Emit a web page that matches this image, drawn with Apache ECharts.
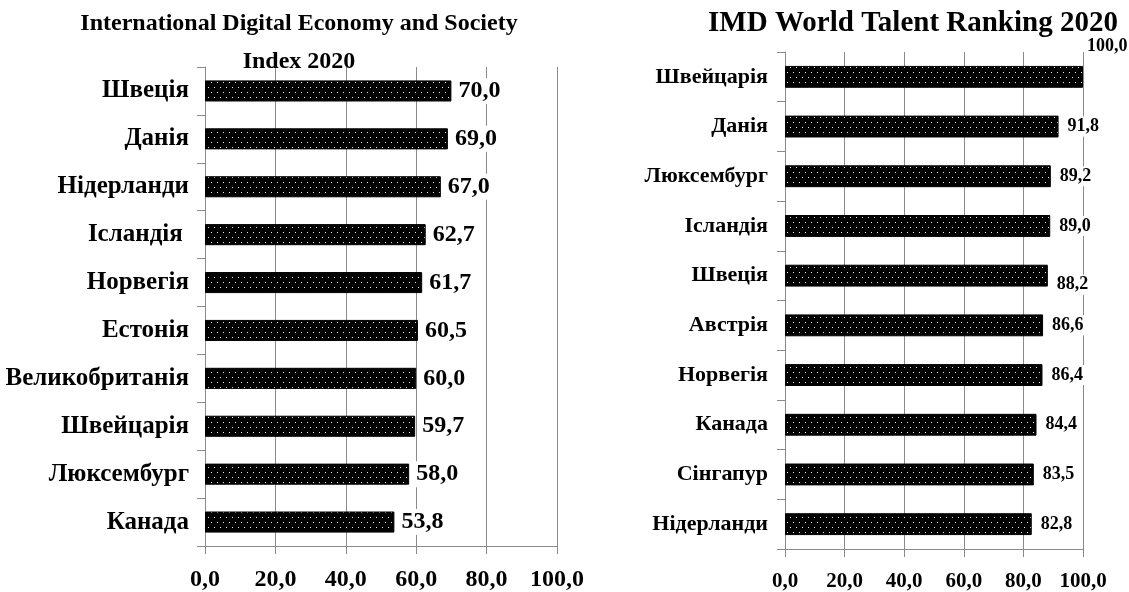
<!DOCTYPE html>
<html><head><meta charset="utf-8">
<script src="https://cdn.jsdelivr.net/npm/echarts@6/dist/echarts.min.js"></script>
<style>html,body{margin:0;padding:0;background:#fff}#c{width:1129px;height:592px}</style>
</head><body><div id="c"></div><script>
const leftCategories = ['Швеція','Данія','Нідерланди','Ісландія ','Норвегія','Естонія','Великобританія','Швейцарія','Люксембург','Канада'];
const leftValues = [70.0,69.0,67.0,62.7,61.7,60.5,60.0,59.7,58.0,53.8];
const rightCategories = ['Швейцарія','Данія','Люксембург','Ісландія','Швеція','Австрія','Норвегія','Канада','Сінгапур','Нідерланди'];
const rightValues = [100.0,91.8,89.2,89.0,88.2,86.6,86.4,84.4,83.5,82.8];
const xMin = 0, xMax = 100, xStep = 20;
const leftTitle = 'International Digital Economy and Society\nIndex 2020';
const rightTitle = 'IMD World Talent Ranking 2020';

const FONT = '"Liberation Serif", "Times New Roman", serif';
const fmt = v => Number(v).toFixed(1).replace('.', ',');

// dotted fill pattern
const pc = document.createElement('canvas');
pc.width = 6; pc.height = 10;
const px = pc.getContext('2d');
px.fillStyle = '#000'; px.fillRect(0,0,6,10);
px.fillStyle = '#f0f0f0';
px.fillRect(1,2,1,1); px.fillRect(4,7,1,1);
const pattern = {image: pc, repeat: 'repeat'};

const grey = '#8a8a8a';
function xAx(gi, fs, margin){
  return {gridIndex: gi, type:'value', min:xMin, max:xMax, interval:xStep,
    axisLine:{show:true, lineStyle:{color:grey}},
    axisTick:{show:true, length:8, lineStyle:{color:grey}},
    splitLine:{show:true, lineStyle:{color:grey, width:1}},
    axisLabel:{formatter: fmt, fontFamily: FONT, fontWeight:'bold', fontSize: fs, color:'#000', margin: margin}};
}
function yAx(gi, cats, fs, margin){
  return {gridIndex: gi, type:'category', data: cats, inverse:true,
    axisLine:{show:true, lineStyle:{color:grey}},
    axisTick:{show:true, length:8, lineStyle:{color:grey}},
    axisLabel:{fontFamily: FONT, fontWeight:'bold', fontSize: fs, color:'#000', margin: margin}};
}

const rightData = rightValues.map((v,i) => {
  const d = {value: v};
  if (i === 0) d.label = {position: [300, -20], verticalAlign:'middle', align:'left'};
  if (i === 4) d.label = {offset: [0, 9]};
  return d;
});

const chart = echarts.init(document.getElementById('c'), null, {renderer:'canvas'});
chart.setOption({
  animation:false,
  backgroundColor:'#fff',
  title:[
    {text:leftTitle, left:294, top:0, textAlign:'center',
     textStyle:{fontFamily:FONT, fontWeight:'bold', fontSize:24, lineHeight:38, color:'#000'}},
    {text:rightTitle, left:908, top:4, textAlign:'center',
     textStyle:{fontFamily:FONT, fontWeight:'bold', fontSize:29, color:'#000'}}
  ],
  grid:[
    {left:205, right:1129-557, top:67, bottom:592-546, containLabel:false},
    {left:785, right:1129-1083, top:52, bottom:592-549, containLabel:false}
  ],
  xAxis:[xAx(0, 24, 22), xAx(1, 21, 22)],
  yAxis:[yAx(0, leftCategories, 25, 16), yAx(1, rightCategories, 22, 17)],
  series:[
    {type:'bar', xAxisIndex:0, yAxisIndex:0, data:leftValues, barWidth:'44%',
     itemStyle:{color:pattern, borderColor:'#000', borderWidth:1},
     label:{show:true, position:'right', distance:5, formatter: p => fmt(p.value),
       fontFamily:FONT, fontWeight:'bold', fontSize:24, color:'#000', backgroundColor:'#fff', padding:[1,2]}},
    {type:'bar', xAxisIndex:1, yAxisIndex:1, data:rightData, barWidth:'44%',
     itemStyle:{color:pattern, borderColor:'#000', borderWidth:1},
     label:{show:true, position:'right', distance:7, formatter: p => fmt(p.value),
       fontFamily:FONT, fontWeight:'bold', fontSize:18, color:'#000', backgroundColor:'#fff', padding:[1,2]}}
  ]
});
</script></body></html>
